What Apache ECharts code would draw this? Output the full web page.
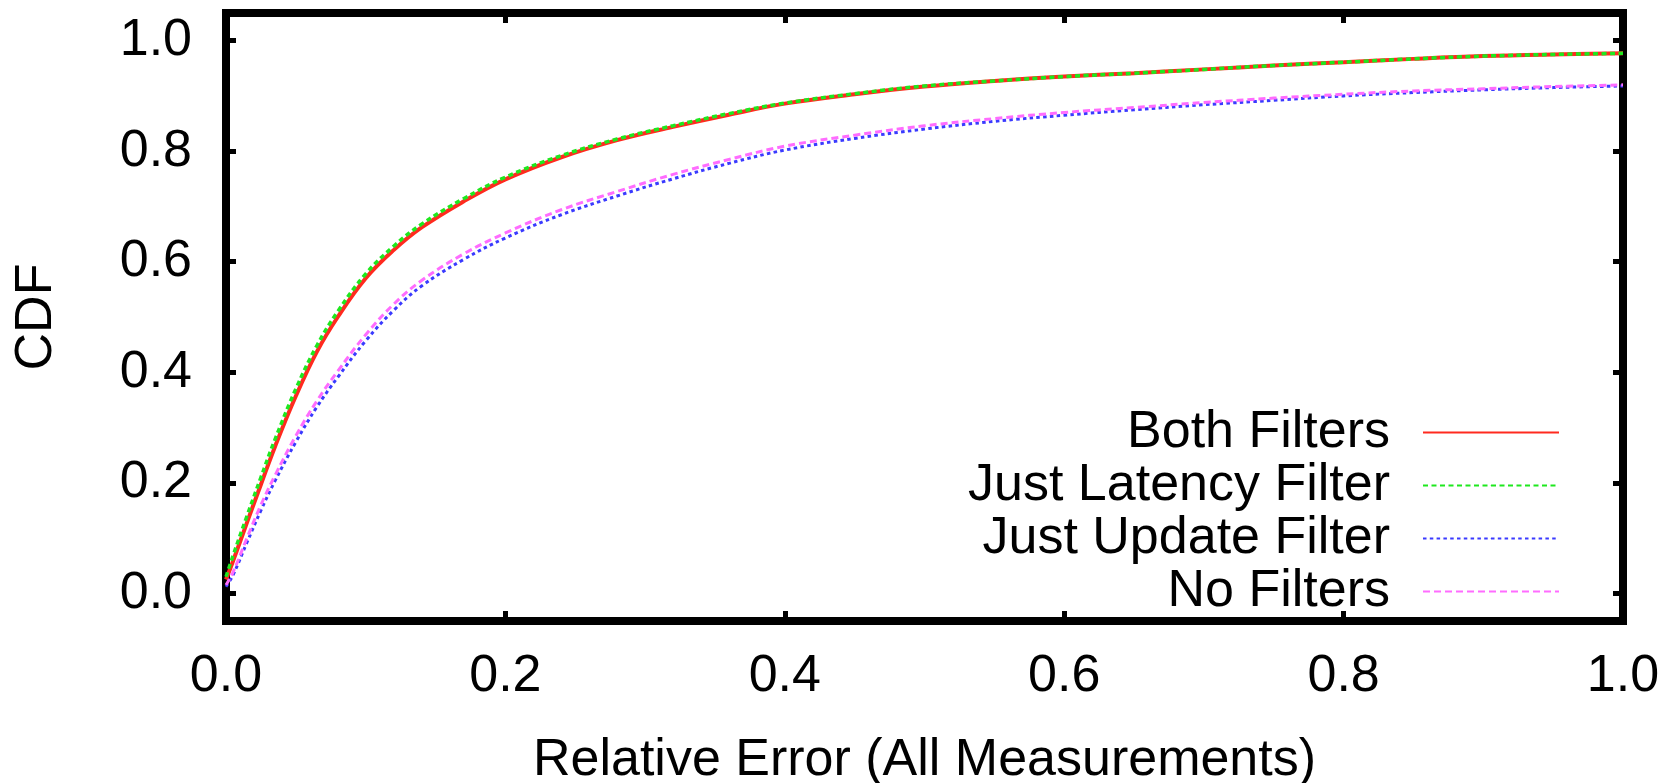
<!DOCTYPE html>
<html>
<head>
<meta charset="utf-8">
<title>CDF of relative error</title>
<script src="https://cdn.jsdelivr.net/npm/echarts@6/dist/echarts.min.js"></script>
<style>
  html, body { margin: 0; padding: 0; background: #fff; }
  #chart { width: 1671px; height: 783px; }
</style>
</head>
<body>
<div id="chart"></div>
<script>
// x positions (relative error) where the curves were read
const errX = [0, 0.005, 0.015, 0.025, 0.035, 0.05, 0.065, 0.08, 0.1, 0.12, 0.14, 0.17, 0.2, 0.24, 0.28,
  0.32, 0.36, 0.4, 0.45, 0.5, 0.55, 0.6, 0.65, 0.7, 0.75, 0.8, 0.85, 0.9, 0.95, 1.0];

// CDF values for each filter setting
const bothFilters = [0.025, 0.058, 0.128, 0.197, 0.265, 0.357, 0.437, 0.5, 0.57, 0.621, 0.662, 0.709, 0.749, 0.789, 0.82,
  0.844, 0.866, 0.886, 0.903, 0.917, 0.927, 0.935, 0.941, 0.948, 0.955, 0.961, 0.967, 0.972, 0.975, 0.977];
const latencyFilter = [0.03, 0.068, 0.14, 0.21, 0.278, 0.37, 0.448, 0.51, 0.578, 0.628, 0.668, 0.714, 0.753, 0.792, 0.822,
  0.846, 0.868, 0.887, 0.904, 0.918, 0.927, 0.935, 0.941, 0.948, 0.955, 0.961, 0.967, 0.972, 0.975, 0.977];
const updateFilter = [0.012, 0.033, 0.092, 0.15, 0.203, 0.274, 0.337, 0.391, 0.457, 0.512, 0.556, 0.604, 0.643, 0.685, 0.719,
  0.75, 0.778, 0.802, 0.823, 0.84, 0.854, 0.865, 0.875, 0.884, 0.892, 0.9, 0.906, 0.911, 0.915, 0.918];
const noFilters = [0.015, 0.038, 0.1, 0.16, 0.213, 0.285, 0.348, 0.402, 0.468, 0.523, 0.566, 0.614, 0.652, 0.694, 0.727,
  0.758, 0.785, 0.809, 0.829, 0.846, 0.859, 0.87, 0.879, 0.888, 0.896, 0.903, 0.909, 0.913, 0.917, 0.92];

const seriesNames = ["Both Filters", "Just Latency Filter", "Just Update Filter", "No Filters"];
const tickValues = [0, 0.2, 0.4, 0.6, 0.8, 1.0];

const FONT = "Liberation Sans, Arial, Helvetica, sans-serif";

function pairs(ys) {
  return errX.map((x, i) => [x, ys[i]]);
}

const chart = echarts.init(document.getElementById("chart"));

// short stubby ticks pointing into the frame
const tickStyle = { show: true, inside: true, length: 10, lineStyle: { color: "#000", width: 5 } };

function line(name, ys, color, width, dash) {
  return {
    name: name,
    type: "line",
    data: pairs(ys),
    xAxisIndex: 0,
    yAxisIndex: 0,
    symbol: "none",
    smooth: 0.4,
    lineStyle: { color: color, width: width, type: dash },
    itemStyle: { color: color },
    animation: false,
  };
}

chart.setOption({
  backgroundColor: "#fff",
  textStyle: { fontFamily: FONT },
  grid: {
    left: 226,
    right: 48,
    top: 13,
    bottom: 162,
    outerBoundsMode: "none",
    containLabel: false,
    show: true,
    borderColor: "#000",
    borderWidth: 8,
    backgroundColor: "transparent",
  },
  legend: {
    orient: "vertical",
    align: "right",
    right: 106,
    top: 401,
    itemWidth: 136,
    itemHeight: 1,
    itemGap: 0,
    textStyle: {
      fontFamily: FONT,
      fontSize: 52,
      lineHeight: 53,
      color: "#000",
      padding: [0, 28, 0, 0],
    },
    data: seriesNames,
  },
  xAxis: [
    {
      type: "value",
      min: 0,
      max: 1,
      interval: 0.2,
      position: "bottom",
      name: "Relative Error (All Measurements)",
      nameLocation: "middle",
      nameGap: 114,
      nameTextStyle: { fontFamily: FONT, fontSize: 52, color: "#000" },
      axisLine: { show: false, onZero: false },
      axisTick: tickStyle,
      splitLine: { show: false },
      axisLabel: {
        fontFamily: FONT,
        fontSize: 52,
        color: "#000",
        margin: 30,
        formatter: (v) => v.toFixed(1),
      },
    },
    {
      type: "value",
      min: 0,
      max: 1,
      interval: 0.2,
      position: "top",
      axisLine: { show: false, onZero: false },
      axisTick: tickStyle,
      axisLabel: { show: false },
      splitLine: { show: false },
    },
  ],
  yAxis: [
    {
      type: "value",
      min: -0.05,
      max: 1.05,
      position: "left",
      name: "CDF",
      nameLocation: "middle",
      nameGap: 163,
      nameTextStyle: { fontFamily: FONT, fontSize: 52, color: "#000" },
      axisLine: { show: false, onZero: false },
      axisTick: Object.assign({}, tickStyle, { customValues: tickValues }),
      splitLine: { show: false },
      axisLabel: {
        fontFamily: FONT,
        fontSize: 52,
        color: "#000",
        margin: 34,
        customValues: tickValues,
        formatter: (v) => v.toFixed(1),
      },
    },
    {
      type: "value",
      min: -0.05,
      max: 1.05,
      position: "right",
      axisLine: { show: false, onZero: false },
      axisTick: Object.assign({}, tickStyle, { customValues: tickValues }),
      axisLabel: { show: false },
      splitLine: { show: false },
    },
  ],
  series: [
    line(seriesNames[0], bothFilters, "#ff2a1f", 4, "solid"),
    line(seriesNames[1], latencyFilter, "#1ee81e", 3.5, [5, 3.5]),
    line(seriesNames[2], updateFilter, "#3a3aff", 3, [3.5, 3.3]),
    line(seriesNames[3], noFilters, "#ff6cff", 3, [7, 4]),
  ],
});
</script>
</body>
</html>
